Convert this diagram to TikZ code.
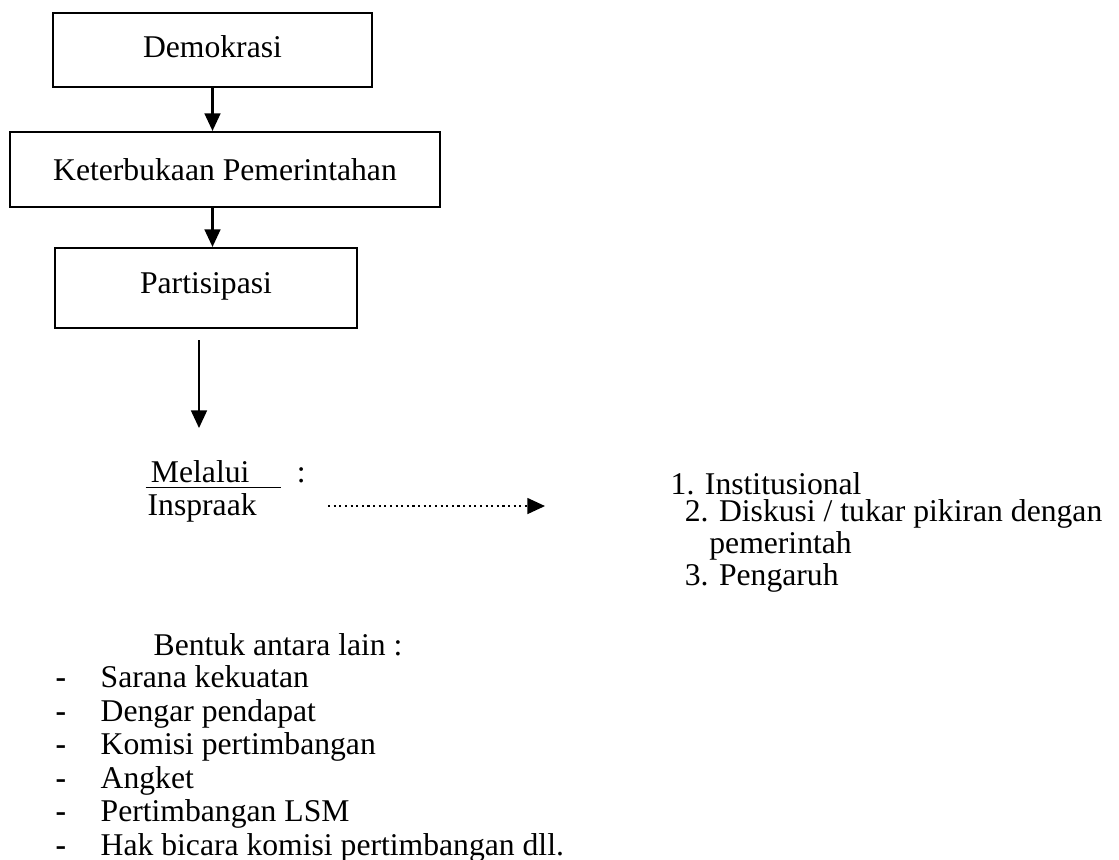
\documentclass[tikz,border=0pt]{standalone}
\usepackage{fontspec}
\setmainfont{Liberation Serif}
\usetikzlibrary{arrows.meta}

\begin{document}
\begin{tikzpicture}[x=0.01cm,y=-0.01cm,
  font=\fontsize{9}{10}\selectfont,
  kotak/.style={draw,line width=0.6pt,inner sep=0pt},
  panah/.style={-{Triangle[length=5pt,width=4.5pt]},line width=0.6pt},
  teks/.style={anchor=west,inner sep=0pt}]
\useasboundingbox (0,0) rectangle (1119,859);

\node[kotak,minimum width=3.19cm,minimum height=0.74cm] (demo) at (212.5,50) {\raisebox{2pt}{Demokrasi}};
\node[kotak,minimum width=4.30cm,minimum height=0.75cm] (buka) at (225,169.5) {Keterbukaan Pemerintahan};
\node[kotak,minimum width=3.02cm,minimum height=0.80cm] (part) at (206,288) {\raisebox{3pt}{Partisipasi}};

\draw[panah] (demo.south) -- (demo.south |- buka.north);
\draw[panah] (demo.south |- buka.south) -- (demo.south |- part.north);

\coordinate (p1) at (199,340);
\coordinate (p2) at (199,428);
\draw[panah] (p1) -- (p2);

\node[teks] (melalui) at (145,475) {\underline{\,Melalui\quad}\ \ :};
\node[teks] (inspraak) at (147,508) {Inspraak};

\coordinate (d1) at (328,506);
\coordinate (d2) at (545,506);
\draw[panah,densely dotted,line width=0.5pt] (d1) -- (d2);

% daftar kanan
\node[teks,anchor=north west,align=left,font=\fontsize{9}{7.6}\selectfont] (daftar) at (670,472)
  {1. Institusional\\
   \hspace*{4pt}2. Diskusi / tukar pikiran dengan\\
   \hspace*{11pt}pemerintah\\
   \hspace*{4pt}3. Pengaruh};

\node[teks] (bentuk) at (153,645) {Bentuk antara lain :};
\foreach \t [count=\i] in {Sarana kekuatan,Dengar pendapat,Komisi pertimbangan,Angket,Pertimbangan LSM,Hak bicara komisi pertimbangan dll.}{
  \node[teks,anchor=base west] (s\i) at (55,654+33.5*\i) {\textbf{-}};
  \node[teks,anchor=base west] (b\i) at (100,654+33.5*\i) {\t};
}
\end{tikzpicture}
\end{document}
